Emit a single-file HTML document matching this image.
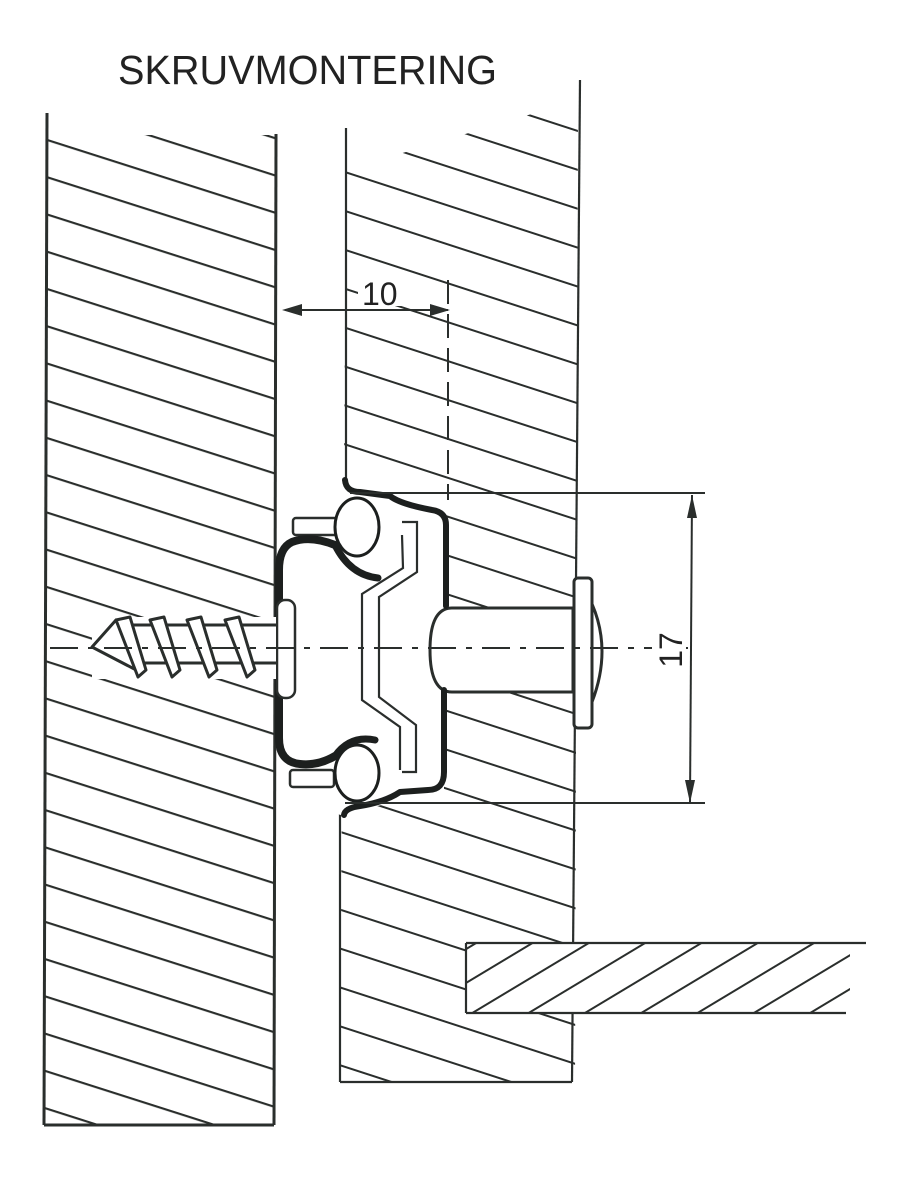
<!DOCTYPE html>
<html><head><meta charset="utf-8"><style>html,body{margin:0;padding:0;background:#fff}svg{display:block}</style></head>
<body>
<svg width="905" height="1201" viewBox="0 0 905 1201" xmlns="http://www.w3.org/2000/svg">
<defs>
<pattern id="hL" patternUnits="userSpaceOnUse" width="3000" height="35.5" patternTransform="translate(0,12) rotate(17.7)">
<line x1="-10" y1="1" x2="3010" y2="1" stroke="#2a2e2c" stroke-width="2.2"/>
</pattern>
<pattern id="hR" patternUnits="userSpaceOnUse" width="3000" height="37" patternTransform="translate(0,20) rotate(18)">
<line x1="-10" y1="1" x2="3010" y2="1" stroke="#2a2e2c" stroke-width="2"/>
</pattern>
<pattern id="hS" patternUnits="userSpaceOnUse" width="3000" height="29" patternTransform="translate(0,10) rotate(-31)">
<line x1="-10" y1="1" x2="3010" y2="1" stroke="#2a2e2c" stroke-width="2"/>
</pattern>
<clipPath id="cS"><rect x="466" y="943" width="384" height="70"/></clipPath>
</defs>
<rect width="905" height="1201" fill="#fff"/>
<text x="118" y="84" font-family="Liberation Sans, sans-serif" font-size="41" fill="#222" textLength="379" lengthAdjust="spacingAndGlyphs">SKRUVMONTERING</text>

<!-- left panel -->
<polygon points="48,135 275,135 275,1125 44,1125" fill="url(#hL)"/>
<g stroke="#2a2e2c" stroke-width="3" fill="none">
<line x1="47" y1="113" x2="44" y2="1125"/>
<line x1="276" y1="134" x2="274" y2="1125"/>
<line x1="44" y1="1125" x2="274" y2="1125"/>
</g>

<!-- right panel -->
<polygon points="346,170 578,100 575,1082 340,1082" fill="url(#hR)"/>
<g stroke="#2a2e2c" stroke-width="2.2" fill="none">
<line x1="346" y1="128" x2="346" y2="480"/>
<line x1="340" y1="812" x2="340" y2="1082"/>
<line x1="340" y1="1082" x2="572" y2="1082"/>
<line x1="580" y1="80" x2="572" y2="1082"/>
</g>

<!-- shelf -->
<rect x="466" y="943" width="400" height="70" fill="#fff"/>
<rect x="466" y="943" width="400" height="70" fill="url(#hS)" clip-path="url(#cS)"/>
<g stroke="#2a2e2c" stroke-width="2.2">
<line x1="466" y1="943" x2="866" y2="943"/>
<line x1="466" y1="1013" x2="846" y2="1013"/>
<line x1="466" y1="943" x2="466" y2="1013"/>
</g>

<!-- fastener white area -->
<path d="M278,540 L346,480 L446,505 L446,610 L575,610 L575,690 L444,690 L444,790 L340,815 L278,770 Z" fill="#fff"/>
<!-- pin -->
<path d="M452,608 L573,608 L573,692 L452,692 Q430,692 430,650 Q430,608 452,608 Z" fill="#fff" stroke="#2a2e2c" stroke-width="3"/>
<rect x="574" y="578" width="18" height="150" rx="4" fill="#fff" stroke="#2a2e2c" stroke-width="3"/>
<path d="M592,604 Q612,650 592,702" fill="none" stroke="#2a2e2c" stroke-width="3"/>
<!-- inner channel -->
<g stroke="#2a2e2c" stroke-width="2.2" fill="none">
<path d="M402,522 L417,522 L417,572 L379,597 L379,697 L416,725 L416,772 L402,772"/>
<path d="M402,535 L403,568 L362,594 L362,700 L400,727 L400,770"/>
</g>
<!-- tabs -->
<rect x="293" y="518" width="44" height="17" rx="3" fill="#fff" stroke="#2a2e2c" stroke-width="2.5"/>
<rect x="290" y="770" width="44" height="17" rx="3" fill="#fff" stroke="#2a2e2c" stroke-width="2.5"/>
<!-- shell -->
<g stroke="#1c1f1e" fill="none" stroke-linecap="round" stroke-linejoin="round">
<path d="M345,480 Q346,492 360,492 L390,496 Q400,504 432,510 Q446,512 446,525 L446,606" stroke-width="6"/>
<path d="M444,690 L444,772 Q444,790 428,790 L400,792 Q385,802 360,806 Q345,808 344,815" stroke-width="6"/>
<path d="M335,545 Q310,535 292,542 Q279,548 279,570 L279,738 Q279,762 300,764 Q318,766 335,756" stroke-width="8"/>
<path d="M335,545 Q350,575 378,578" stroke-width="7"/>
<path d="M335,756 Q350,735 375,740" stroke-width="7"/>
</g>
<ellipse cx="357" cy="527" rx="22" ry="29" fill="#fff" stroke="#1c1f1e" stroke-width="3"/>
<ellipse cx="357" cy="773" rx="22" ry="28" fill="#fff" stroke="#1c1f1e" stroke-width="3"/>
<rect x="277" y="600" width="18" height="98" rx="8" fill="#fff" stroke="#2a2e2c" stroke-width="2.5"/>

<!-- screw -->
<rect x="92" y="617" width="184" height="62" fill="#fff"/>
<g stroke="#2a2e2c" stroke-width="3" fill="none" stroke-linejoin="round">
<line x1="125" y1="625" x2="277" y2="625"/>
<line x1="125" y1="663" x2="277" y2="663"/>
<path d="M92,647 L116,620 L140,672 Z" fill="#fff"/>
<path d="M116,620 L130,617 L146,670 L138,677 Z" fill="#fff"/>
<path d="M150,620 L164,617 L180,670 L172,677 Z" fill="#fff"/>
<path d="M187,620 L201,617 L217,670 L209,677 Z" fill="#fff"/>
<path d="M225,620 L239,617 L255,670 L247,677 Z" fill="#fff"/>
</g>

<!-- centerline -->
<line x1="50" y1="648" x2="690" y2="648" stroke="#2a2e2c" stroke-width="2" stroke-dasharray="28,10,6,10"/>

<!-- dimension 10 -->
<rect x="358" y="276" width="50" height="30" fill="#fff"/>
<g stroke="#2a2e2c" stroke-width="2" fill="none">
<line x1="285" y1="310" x2="448" y2="310"/>
<line x1="448" y1="280" x2="448" y2="500" stroke-dasharray="24,10"/>
</g>
<polygon points="282,310 302,304 302,316" fill="#2a2e2c"/>
<polygon points="450,310 430,304 430,316" fill="#2a2e2c"/>
<text x="362" y="305" font-family="Liberation Sans, sans-serif" font-size="32" fill="#222">10</text>

<!-- dimension 17 -->
<g stroke="#2a2e2c" stroke-width="2" fill="none">
<line x1="350" y1="493" x2="705" y2="493"/>
<line x1="345" y1="803" x2="705" y2="803"/>
<line x1="692" y1="495" x2="690" y2="803"/>
</g>
<polygon points="692,495 687,518 697,518" fill="#2a2e2c"/>
<polygon points="690,803 685,780 695,780" fill="#2a2e2c"/>
<rect x="652" y="628" width="34" height="42" fill="#fff"/>
<text x="0" y="0" transform="translate(682,650) rotate(-90)" text-anchor="middle" font-family="Liberation Sans, sans-serif" font-size="32" fill="#222">17</text>
</svg>
</body></html>
